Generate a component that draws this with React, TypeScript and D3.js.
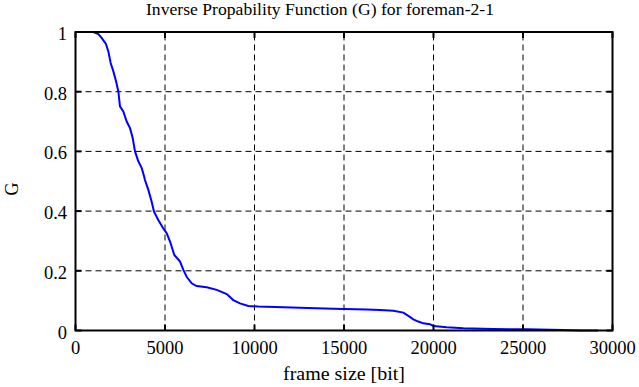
import React from "react";
import * as d3 from "d3";

const titleText = "Inverse Propability Function (G) for foreman-2-1";
const xLabel = "frame size [bit]";
const yLabel = "G";
const xTicks = [0, 5000, 10000, 15000, 20000, 25000, 30000];
const yTicks = [0, 0.2, 0.4, 0.6, 0.8, 1];
const yTickLabels = ["0", "0.2", "0.4", "0.6", "0.8", "1"];

const frameSize = [
  1000, 1275, 1460, 1700, 1835, 1965, 2115, 2265, 2395, 2485, 2670, 2860, 3045, 3195, 3325,
  3510, 3700, 3830, 3880, 4070, 4255, 4385, 4625, 4905, 5095, 5280, 5520, 5840, 6025, 6210,
  6490, 6770, 7330, 7890, 8450, 8815, 9190, 9655, 10210, 11610, 14400, 16270, 17010, 17760,
  18315, 18595, 18875, 19150, 19430, 19805, 19990, 20740, 21665, 23340, 25210, 27250, 28190, 29200,
];
const gValue = [
  1.0, 0.993, 0.98, 0.96, 0.935, 0.896, 0.868, 0.835, 0.8, 0.751, 0.734, 0.7, 0.678, 0.645, 0.6,
  0.567, 0.544, 0.517, 0.504, 0.471, 0.431, 0.398, 0.37, 0.342, 0.326, 0.298, 0.253, 0.231, 0.203, 0.18,
  0.158, 0.149, 0.145, 0.136, 0.122, 0.102, 0.091, 0.082, 0.08, 0.078, 0.073, 0.07, 0.0687, 0.066,
  0.06, 0.049, 0.0375, 0.03, 0.024, 0.021, 0.015, 0.011, 0.0074, 0.005, 0.004, 0.0017, 0.0, 0.0,
];

const W = 639;
const H = 387;
const FONT = "Liberation Serif, Times New Roman, DejaVu Serif, serif";

export default function App() {
  const x = d3.scaleLinear().domain([0, 30000]).range([75.5, 612.5]);
  const y = d3.scaleLinear().domain([0, 1]).range([330.5, 32]);
  const pts: [number, number][] = frameSize.map((f, i) => [f, gValue[i]]);
  const line = d3
    .line<[number, number]>()
    .x((d) => x(d[0]))
    .y((d) => y(d[1]));
  const [x0, x1] = x.range();
  const [y0, y1] = y.range();
  const ts = { fontFamily: FONT, fontSize: "18.5px" };

  return (
    <svg
      width={W}
      height={H}
      style={{ position: "absolute", left: 0, top: 0, background: "#fff", fontFamily: FONT }}
    >
      <rect x={0} y={0} width={W} height={H} fill="#fff" />
      {xTicks.slice(1, -1).map((t) => (
        <line key={"gx" + t} x1={x(t)} x2={x(t)} y1={y0} y2={y1} stroke="#000" strokeWidth={1} strokeDasharray="6,4" />
      ))}
      {yTicks.slice(1, -1).map((t) => (
        <line key={"gy" + t} x1={x0} x2={x1} y1={y(t)} y2={y(t)} stroke="#000" strokeWidth={1} strokeDasharray="6,4" />
      ))}
      <path d={line(pts) || ""} fill="none" stroke="#0000ff" strokeWidth={2} />
      <rect x={x0} y={y1} width={x1 - x0} height={y0 - y1} fill="none" stroke="#000" strokeWidth={2} />
      {xTicks.map((t) => (
        <g key={"tx" + t}>
          <line x1={x(t)} x2={x(t)} y1={y0} y2={y0 - 6} stroke="#000" strokeWidth={2} />
          <line x1={x(t)} x2={x(t)} y1={y1} y2={y1 + 6} stroke="#000" strokeWidth={2} />
          <text x={x(t)} y={354} textAnchor="middle" style={ts} fill="#000">
            {String(t)}
          </text>
        </g>
      ))}
      {yTicks.map((t, i) => (
        <g key={"ty" + t}>
          <line x1={x0} x2={x0 + 6} y1={y(t)} y2={y(t)} stroke="#000" strokeWidth={2} />
          <line x1={x1} x2={x1 - 6} y1={y(t)} y2={y(t)} stroke="#000" strokeWidth={2} />
          <text x={67} y={y(t) + 8} textAnchor="end" style={ts} fill="#000">
            {yTickLabels[i]}
          </text>
        </g>
      ))}
      <text
        x={320}
        y={15}
        textAnchor="middle"
        textLength={348}
        lengthAdjust="spacingAndGlyphs"
        style={{ fontFamily: FONT, fontSize: "17.5px" }}
        fill="#000"
      >
        {titleText}
      </text>
      <text
        x={344}
        y={380}
        textAnchor="middle"
        textLength={122}
        lengthAdjust="spacingAndGlyphs"
        style={{ fontFamily: FONT, fontSize: "19px" }}
        fill="#000"
      >
        {xLabel}
      </text>
      <text transform="translate(18,189) rotate(-90)" textAnchor="middle" style={{ fontFamily: FONT, fontSize: "18px" }} fill="#000">
        {yLabel}
      </text>
    </svg>
  );
}
